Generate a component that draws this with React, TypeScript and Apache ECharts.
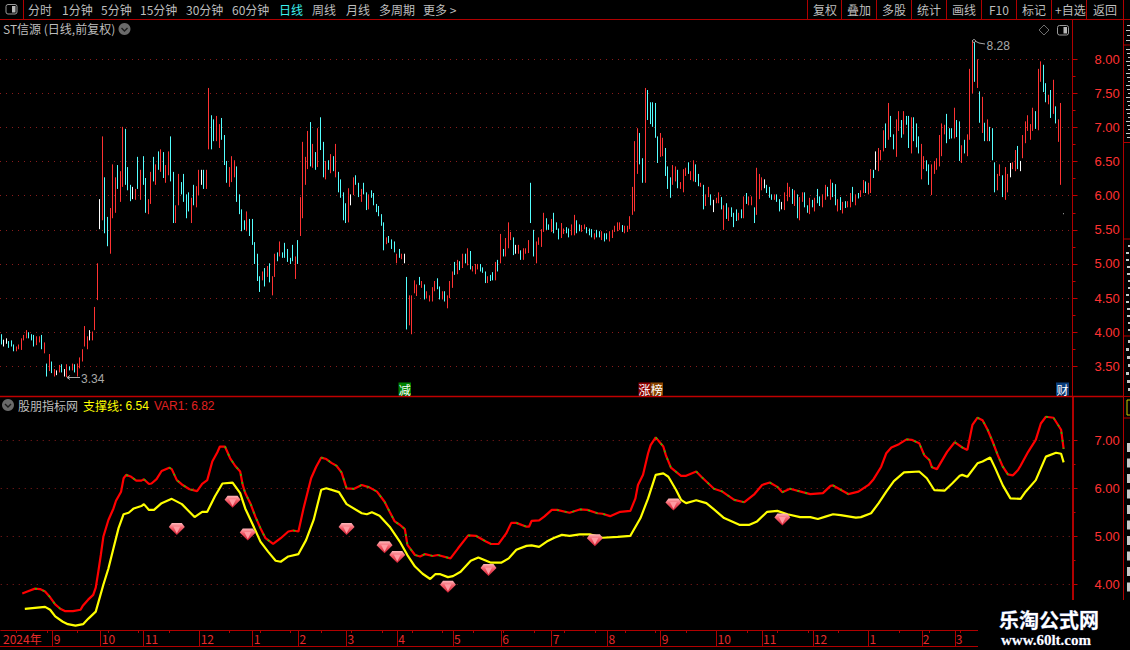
import React, { useEffect, useRef } from "react";
import * as echarts from "echarts";

const highs = [3.97,3.89,3.91,3.87,3.88,3.82,3.79,3.82,3.91,3.96,4.03,4.00,3.97,3.96,3.94,3.94,3.96,3.85,3.54,3.68,3.57,3.46,3.44,3.52,3.53,3.46,3.53,3.50,3.54,3.53,3.54,3.63,3.75,4.09,3.94,4.03,4.01,4.37,5.01,5.95,6.87,6.27,5.69,5.82,6.46,6.27,6.45,6.36,7.01,6.98,6.42,6.16,6.13,6.10,6.57,6.38,6.58,6.26,5.95,6.35,6.57,6.46,6.65,6.68,6.64,6.45,6.65,6.87,6.35,5.86,6.32,6.20,6.32,6.02,6.05,5.97,6.16,6.14,6.38,6.38,6.38,6.38,7.58,7.18,7.12,7.17,7.05,7.14,6.89,6.51,6.42,6.58,6.52,6.43,6.02,5.80,5.64,5.77,5.66,5.66,5.32,5.15,4.82,4.89,4.94,4.97,
5.01,4.82,5.15,5.17,5.33,5.17,5.31,5.22,5.09,5.28,5.11,5.35,5.98,6.79,6.57,6.95,7.08,6.76,6.64,6.99,7.15,6.79,6.51,6.52,6.61,6.58,6.76,6.35,6.24,6.05,5.89,6.11,6.02,6.27,6.30,6.19,6.10,6.19,6.05,6.02,6.08,6.04,5.88,5.85,5.73,5.61,5.39,5.41,5.36,5.33,5.15,5.22,5.15,5.15,4.81,4.54,4.54,4.76,4.70,4.81,4.75,4.70,4.60,4.54,4.66,4.75,4.79,4.67,4.60,4.60,4.54,4.75,4.89,5.03,5.06,5.04,5.15,5.15,5.23,5.19,4.97,5.00,5.00,5.00,4.95,4.89,4.82,4.84,4.88,5.03,5.06,5.44,5.22,5.38,5.61,5.47,5.39,5.28,5.28,5.20,5.23,5.23,5.35,6.19,5.50,5.33,5.39,
5.51,5.75,5.67,5.58,5.66,5.75,5.61,5.52,5.60,5.52,5.54,5.52,5.58,5.72,5.64,5.58,5.57,5.58,5.54,5.52,5.51,5.45,5.50,5.48,5.48,5.45,5.45,5.48,5.50,5.56,5.61,5.61,5.57,5.56,5.56,5.70,6.13,6.80,6.99,6.92,6.55,7.58,7.55,7.37,7.37,7.36,6.87,6.92,6.85,6.70,6.43,6.27,6.45,6.43,6.38,6.20,6.39,6.41,6.49,6.36,6.52,6.46,6.32,6.19,6.16,6.02,6.13,6.02,5.94,5.97,6.05,5.98,5.86,5.89,5.83,5.83,5.75,5.80,5.75,5.80,5.99,6.04,5.99,5.99,5.83,6.41,6.32,6.27,6.24,6.16,6.13,6.02,6.02,6.02,5.95,5.91,6.05,6.19,6.13,6.10,6.08,6.02,5.98,6.05,6.05,5.86,5.97,
5.94,5.97,6.10,5.99,6.02,6.16,6.13,6.24,6.19,6.17,5.95,5.98,5.91,5.92,5.92,6.04,6.13,6.02,6.04,6.08,6.23,6.21,6.19,6.39,6.38,6.65,6.70,6.67,6.96,7.06,7.36,7.17,6.90,7.12,7.24,7.11,7.24,7.17,7.17,7.15,7.15,7.06,6.87,6.76,6.58,6.52,6.46,6.46,6.51,6.55,6.89,7.06,7.04,7.20,6.99,6.99,7.29,7.11,7.09,6.74,6.82,6.90,7.86,8.28,8.25,8.00,7.53,7.45,7.07,7.12,7.01,6.99,6.49,6.32,6.46,6.30,6.42,6.32,6.48,6.49,6.67,6.73,6.51,6.89,7.09,7.18,7.05,7.29,7.24,7.86,7.97,7.92,7.65,7.48,7.55,7.70,7.31,7.12,7.36,5.74];

const lows = [3.82,3.79,3.83,3.77,3.79,3.72,3.72,3.75,3.74,3.88,3.91,3.91,3.88,3.79,3.81,3.85,3.75,3.69,3.35,3.43,3.40,3.35,3.37,3.41,3.41,3.35,3.34,3.44,3.44,3.41,3.35,3.47,3.57,3.79,3.75,3.88,3.88,4.03,4.47,5.51,5.64,5.45,5.26,5.15,5.67,5.75,6.10,5.91,6.13,6.16,6.08,5.92,5.95,5.94,6.10,5.94,6.16,5.75,5.73,5.88,6.21,6.16,6.38,6.35,6.26,6.19,6.30,6.21,5.60,5.60,5.86,6.02,5.91,5.67,5.77,5.60,5.86,5.83,6.01,6.16,6.10,6.10,6.68,6.68,6.80,6.80,6.70,6.82,6.45,6.19,6.13,6.20,6.27,5.91,5.73,5.48,5.50,5.48,5.41,5.28,5.00,4.75,4.59,4.76,4.67,4.81,
4.73,4.54,4.81,5.04,5.11,5.09,5.09,5.03,5.00,5.04,4.78,5.00,5.41,5.67,6.16,6.39,6.43,6.41,6.38,6.42,6.67,6.27,6.24,6.38,6.33,6.36,6.27,6.05,5.97,5.64,5.60,5.61,5.86,6.01,6.16,5.98,5.91,6.02,5.79,5.80,5.97,5.86,5.76,5.70,5.56,5.20,5.29,5.31,5.22,5.17,5.01,5.09,5.07,5.01,4.04,4.10,3.97,4.57,4.53,4.69,4.65,4.48,4.50,4.45,4.45,4.60,4.63,4.48,4.48,4.45,4.35,4.50,4.65,4.84,4.85,4.91,4.94,5.01,4.98,4.92,4.89,4.85,4.92,4.89,4.87,4.72,4.72,4.75,4.76,4.76,4.89,5.01,5.11,5.11,5.23,5.35,5.13,5.15,5.15,5.06,5.06,5.15,5.16,5.60,5.11,5.01,5.28,
5.25,5.47,5.50,5.50,5.47,5.45,5.50,5.36,5.38,5.44,5.45,5.39,5.42,5.42,5.45,5.48,5.47,5.51,5.45,5.42,5.39,5.36,5.39,5.39,5.35,5.33,5.36,5.33,5.38,5.47,5.48,5.50,5.47,5.45,5.47,5.51,5.72,5.77,6.32,6.46,6.19,6.19,7.11,7.05,7.01,6.85,6.48,6.57,6.58,6.29,6.10,5.97,6.16,6.21,6.11,6.10,6.05,6.29,6.32,6.23,6.21,6.20,6.14,6.13,5.80,5.85,5.98,5.86,5.76,5.89,5.89,5.80,5.50,5.66,5.63,5.69,5.54,5.63,5.64,5.67,5.67,5.88,5.86,5.86,5.60,5.72,5.95,6.08,6.11,6.04,5.97,5.94,5.94,5.91,5.77,5.80,5.79,5.92,5.98,5.88,5.85,5.67,5.64,5.91,5.83,5.75,5.73,
5.83,5.77,5.89,5.85,5.83,5.94,5.99,5.94,5.98,5.86,5.77,5.79,5.74,5.82,5.83,5.83,5.91,5.86,5.96,5.98,6.04,6.04,6.02,6.04,6.26,6.38,6.36,6.52,6.65,6.70,6.82,6.86,6.68,6.57,6.95,6.85,6.90,7.04,6.70,6.62,6.80,6.71,6.62,6.24,6.39,6.36,6.16,6.01,6.32,6.38,6.43,6.58,6.90,6.77,6.83,6.84,6.84,6.86,6.51,6.48,6.62,6.58,6.82,7.50,7.67,7.58,7.07,6.92,6.80,6.80,6.80,6.52,6.05,6.08,6.29,5.98,5.94,6.05,6.27,6.39,6.36,6.39,6.36,6.55,6.77,6.95,6.82,6.95,6.98,6.96,7.67,7.52,7.37,7.34,7.14,7.20,7.06,6.79,6.16,5.73];

// One letter per candle: r = up, c = down, w = flat
const tones = [
  "cwwcccrrrr","rcccrrcrcr","crwrcwrcrc","rrrrrwrrrw","rccrrrcrrc","ccwrcrccrr","crcrcrrccr","rccccrcrrw","crrccrrccc","rrrccccrcc","cccrcr",
  "crrcrccccc","rcrrrrcrcr","ccrcrcrccc","crwrccrccr","ccccccrccc","rcrwcrrrrc","rcrrrrccrc","rrrcrcrcrc","rrrcccrccr","crcrrrcwrc","rrrccrr",
  "rrccrcccrr","ccrrccrrcc","crccrccrrr","rrcrrrrrrc","crcccccrrc","ccrrcrrrcr","rccrcrrcwr","rcrcrcccrc","rcrrcrrrwc","ccrccwrrrc","rcrrccr",
  "crccrrcrcc","rcrcrrcrcr","rcrrcwrrrc","rccrrcrccr","cccrrccrrr","rrrcccrccr","crrrcrcrcr","cccrrcrrwr","rcwrrrrrcr","rccrcrcrrw",
].join("");

const monthStarts = [0, 20, 39, 56, 78, 99, 117, 136, 156, 178, 197, 217, 239, 260, 282, 300, 320, 342, 363, 376];
const monthNames = ["2024年", "9", "10", "11", "12", "1", "2", "3", "4", "5", "6", "7", "8", "9", "10", "11", "12", "1", "2", "3"];

const var1Index = [8,10,13,15,17,19,21,23,25,28,31,32,34,36,37,38,39,40,42,44,45,47,48,49,51,53,55,56,58,59,61,63,66,67,69,71,74,77,79,81,83,85,86,88,90,92,94,95,96,98,100,102,104,107,110,113,115,117,119,122,124,126,128,130,132,134,136,139,142,145,148,151,153,155,157,159,160,163,165,167,170,172,177,180,184,187,191,193,196,199,201,203,207,208,209,212,214,217,219,224,228,231,235,237,240,244,248,250,251,253,255,256,258,261,262,264,268,270,274,276,281,284,289,293,297,300,303,306,308,311,316,319,324,327,328,331,334,338,342,344,347,349,351,354,357,359,362,364,366,367,369,373,376,379,381,383,385,387,389,391,393,395,397,399,401,402,405,408,410,412,415,418,419];
const var1Values = [3.81,3.85,3.91,3.90,3.85,3.73,3.58,3.49,3.44,3.44,3.47,3.56,3.68,3.78,3.93,4.26,4.61,4.99,5.34,5.58,5.74,5.93,6.21,6.28,6.24,6.16,6.16,6.19,6.09,6.10,6.19,6.36,6.43,6.40,6.17,6.08,5.98,5.94,6.09,6.17,6.56,6.75,6.87,6.87,6.63,6.47,6.35,6.07,5.90,5.69,5.41,5.17,4.96,4.84,4.96,5.10,5.12,5.10,5.58,6.21,6.45,6.64,6.61,6.53,6.47,6.33,6.00,5.99,6.07,6.02,5.93,5.72,5.51,5.31,5.24,5.15,4.82,4.61,4.58,4.63,4.59,4.61,4.54,4.75,5.02,5.01,4.89,4.84,4.84,5.06,5.28,5.28,5.20,5.20,5.32,5.33,5.41,5.55,5.55,5.49,5.56,5.55,5.48,5.47,5.42,5.51,5.53,5.79,6.07,6.28,6.73,6.90,7.06,6.87,6.69,6.43,6.26,6.26,6.35,6.24,5.99,5.94,5.76,5.71,5.88,6.07,6.12,6.03,5.92,5.99,5.92,5.88,5.90,6.05,6.06,5.97,5.88,5.93,6.07,6.19,6.45,6.73,6.85,6.92,7.02,7.01,6.94,6.69,6.59,6.44,6.40,6.76,6.96,6.85,6.80,7.32,7.47,7.42,7.22,6.97,6.69,6.45,6.29,6.27,6.38,6.47,6.76,7.01,7.35,7.49,7.47,7.22,6.82];

const supportIndex = [9,13,17,19,21,24,26,29,32,34,37,40,42,44,46,48,50,52,55,56,58,60,63,67,71,76,79,81,84,87,91,94,96,99,102,105,108,110,113,117,120,123,126,128,133,136,142,144,146,149,153,157,160,163,166,169,171,173,176,178,181,185,188,193,197,200,203,207,209,212,215,218,221,224,228,232,237,243,248,252,255,258,261,263,266,268,270,274,278,281,285,291,295,298,302,306,310,315,319,322,325,328,331,337,339,343,346,349,352,356,362,365,368,372,375,378,379,381,385,387,390,392,395,398,402,404,408,412,416,418,419];
const supportValues = [3.49,3.51,3.53,3.47,3.33,3.22,3.17,3.14,3.17,3.28,3.43,3.99,4.33,4.75,5.17,5.46,5.49,5.58,5.63,5.67,5.55,5.55,5.69,5.78,5.67,5.40,5.51,5.51,5.83,6.10,6.12,5.90,5.58,5.24,4.89,4.68,4.49,4.47,4.58,4.63,4.92,5.34,5.97,6.00,5.92,5.67,5.48,5.46,5.50,5.43,5.20,4.89,4.61,4.37,4.22,4.11,4.21,4.21,4.15,4.17,4.26,4.49,4.56,4.45,4.45,4.54,4.72,4.80,4.81,4.78,4.89,4.97,5.03,5.01,5.04,5.04,4.97,4.99,5.01,5.38,5.79,6.28,6.31,6.24,5.97,5.76,5.69,5.75,5.69,5.56,5.38,5.24,5.24,5.31,5.51,5.53,5.46,5.40,5.40,5.36,5.41,5.46,5.44,5.39,5.40,5.48,5.69,5.93,6.15,6.33,6.35,6.21,5.96,5.95,6.10,6.26,6.28,6.24,6.52,6.56,6.64,6.42,6.06,5.79,5.78,5.93,6.17,6.66,6.74,6.72,6.54];

const gemIndex = [69, 91, 97, 136, 151, 156, 176, 192, 234, 265, 308];
const gemValues = [5.15, 5.72, 5.04, 5.15, 4.77, 4.57, 3.95, 4.30, 4.92, 5.66, 5.35];

const topMenu = ["分时", "1分钟", "5分钟", "15分钟", "30分钟", "60分钟", "日线", "周线", "月线", "多周期", "更多 >"];
const topMenuX = [28, 62, 101, 140, 186, 232, 279, 312, 346, 379, 423];
const rightMenu = ["复权", "叠加", "多股", "统计", "画线", "F10", "标记", "+自选", "返回"];
const rightMenuX = [813, 847, 882, 917, 952, 989, 1022, 1055, 1093];
const rightMenuRules = [807.5, 841.5, 876.5, 911.5, 946.5, 981.5, 1016.5, 1051.5, 1086.5, 1123.5];

const CATEGORY_COUNT = 423;
const PLOT_WIDTH = 1072.5;
const RED = "#ff3232";
const RULE = "#b00000";
const GRAY = "#bdbdbd";
const CJK = '"Noto Sans CJK SC", "Liberation Sans", sans-serif';

function label(text: string, x: number, y: number, fill: string, size = 12, extra: any = {}) {
  return {
    type: "text",
    x,
    y,
    z: 20,
    style: { text, fill, font: `${extra.weight || "normal"} ${size}px ${extra.family || CJK}`, textVerticalAlign: "middle", textAlign: extra.align || "left", stroke: extra.stroke, lineWidth: extra.lineWidth },
  };
}
function rule(x1: number, y1: number, x2: number, y2: number, stroke = RULE, lineWidth = 1, z = 10) {
  return { type: "line", z, shape: { x1, y1, x2, y2 }, style: { stroke, lineWidth } };
}
function panelIcon(x: number, y: number) {
  return [
    { type: "rect", z: 20, shape: { x, y, width: 11, height: 9.5, r: 2 }, style: { fill: "#000", stroke: "#9a9a9a", lineWidth: 1 } },
    { type: "rect", z: 21, shape: { x: x + 6, y: y + 1.5, width: 3.5, height: 6.5 }, style: { fill: "#b8b8b8" } },
  ];
}
function collapseButton(x: number, y: number) {
  return [
    { type: "circle", z: 20, shape: { cx: x, cy: y, r: 6 }, style: { fill: "#6a6a6a" } },
    { type: "polyline", z: 21, shape: { points: [[x - 3, y - 1], [x, y + 2], [x + 3, y - 1]] }, style: { stroke: "#1c1c1c", lineWidth: 1.4, fill: "none" } },
  ];
}
function tag(text: string, x: number, width: number, fill: string) {
  return [
    { type: "rect", z: 20, shape: { x, y: 382.5, width, height: 13 }, style: { fill } },
    label(text, x + width / 2, 389, "#ffffff", 12, { align: "center" }),
  ];
}
// The far right column holds text cut off by the window edge; only slivers of it show.
function sliver(x: number, y: number, width: number, height: number, fill = "#c8c8c8") {
  return { type: "rect", z: 12, shape: { x, y, width, height }, style: { fill } };
}
function sidebarSlivers() {
  const out: any[] = [];
  for (let y = 25; y < 44; y += 5) out.push(sliver(1126 + (y % 2), y, 4, 1));
  for (let y = 49; y < 141; y += 4) out.push(sliver(1126 + ((y >> 2) % 3), y, 4, 1));
  for (let y = 245; y < 335; y += 7) out.push(sliver(1126 + ((y >> 1) % 3), y, 3, 2));
  for (let y = 340; y < 394; y += 8) out.push(sliver(1126 + ((y >> 1) % 3), y, 3, 3));
  for (let y = 443; y < 598; y += 15.5) out.push(sliver(1127, y, 3, 9));
  return out;
}
function axisX(i: number) {
  return Math.round(((i + 0.5) * PLOT_WIDTH) / CATEGORY_COUNT) + 0.5;
}
function timeTicks() {
  const out: any[] = monthStarts.filter((i) => i > 0).map((i) => rule(axisX(i), 630, axisX(i), 646.5));
  for (let i = 6; i < 386; i += 12) out.push(rule(axisX(i), 630, axisX(i), 633));
  return out;
}

const App = () => {
  const ref = useRef<HTMLDivElement>(null);
  useEffect(() => {
    if (!ref.current) return;
    document.body.style.margin = "0";
    document.body.style.background = "#000";
    const chart = echarts.init(ref.current, undefined, { renderer: "svg" });

    const categories = Array.from({ length: CATEGORY_COUNT }, (_, i) => {
      const m = monthStarts.indexOf(i);
      return m >= 0 ? monthNames[m] : "";
    });
    const isMonth = (i: number) => monthStarts.includes(i);
    const candleColors: Record<string, string> = { r: "#ff3232", c: "#54ffff", w: "#ffffff" };
    const candles = highs.map((h, i) => {
      const t = tones[i] || "r";
      const col = candleColors[t];
      return {
        value: t === "r" ? [lows[i], h, lows[i], h] : [h, lows[i], lows[i], h],
        itemStyle: { color: col, color0: col, borderColor: col, borderColor0: col, borderWidth: 1 },
      };
    });
    const var1 = var1Index.map((x, i) => [x, var1Values[i]]);
    const falling = var1Index.map((x, i) => {
      const prev = var1Values[i - 1];
      const next = var1Values[i + 1];
      const down = (prev !== undefined && prev > var1Values[i]) || (next !== undefined && next < var1Values[i]);
      return [x, down ? var1Values[i] : null];
    });
    const support = supportIndex.map((x, i) => [x, supportValues[i]]);
    const gems = gemIndex.map((x, i) => [x, gemValues[i]]);

    const yAxisBase = {
      type: "value",
      position: "right",
      axisLine: { show: false },
      axisTick: { show: true, length: 5, lineStyle: { color: "#c00000", width: 1 } },
      minorTick: { show: true, splitNumber: 2, length: 3, lineStyle: { color: "#c00000", width: 1 } },
      splitLine: { show: true, lineStyle: { color: "#8a1c1c", type: [1, 5], width: 1 } },
      axisLabel: { color: RED, fontSize: 13, fontFamily: "Liberation Sans", margin: 22, align: "left", formatter: (v: number) => v.toFixed(2) },
    };

    chart.setOption({
      animation: false,
      backgroundColor: "#000000",
      grid: [
        { left: 0, width: PLOT_WIDTH, top: 59.3, height: 307 },
        { left: 0, width: PLOT_WIDTH, top: 440.3, height: 144 },
      ],
      xAxis: [
        { type: "category", gridIndex: 0, data: categories, show: false },
        {
          type: "category",
          gridIndex: 1,
          data: categories,
          position: "bottom",
          offset: 45.7,
          axisLine: { lineStyle: { color: RULE, width: 1 } },
          axisTick: { show: false },
          axisLabel: { interval: (i: number) => isMonth(i), color: "#e62a2a", fontSize: 12, fontFamily: CJK, align: "left", margin: 2, padding: [0, 0, 0, 1], hideOverlap: false },
          splitLine: { show: false },
        },
      ],
      yAxis: [
        { ...yAxisBase, gridIndex: 0, min: 3.5, max: 8, interval: 0.5 },
        { ...yAxisBase, gridIndex: 1, min: 4, max: 7, interval: 1 },
      ],
      series: [
        { name: "K线", type: "candlestick", xAxisIndex: 0, yAxisIndex: 0, data: candles, barWidth: 0.2, clip: false },
        { name: "VAR1", type: "line", xAxisIndex: 1, yAxisIndex: 1, data: var1, showSymbol: false, symbol: "none", clip: false, lineStyle: { color: "#ff0000", width: 2.2 }, z: 3 },
        { name: "VAR1下跌", type: "line", xAxisIndex: 1, yAxisIndex: 1, data: falling, showSymbol: false, symbol: "none", clip: false, connectNulls: false, lineStyle: { color: "#00e000", width: 1.4, type: [2, 6] }, z: 4 },
        { name: "支撑线", type: "line", xAxisIndex: 1, yAxisIndex: 1, data: support, showSymbol: false, symbol: "none", clip: false, lineStyle: { color: "#ffff00", width: 2.2 }, z: 3 },
        {
          name: "钻石",
          type: "scatter",
          xAxisIndex: 1,
          yAxisIndex: 1,
          data: gems,
          clip: false,
          z: 6,
          symbol: "path://M3 0H13L16 4L8 12L0 4Z",
          symbolSize: [16, 12],
          itemStyle: { opacity: 1, color: new echarts.graphic.LinearGradient(0, 0, 0, 1, [{ offset: 0, color: "#ffb8bc" }, { offset: 0.4, color: "#f4606c" }, { offset: 1, color: "#d01c30" }]) },
        },
        {
          name: "钻石高光",
          type: "scatter",
          xAxisIndex: 1,
          yAxisIndex: 1,
          data: gems,
          clip: false,
          z: 7,
          symbol: "path://M0 0H8L4 8Z",
          symbolSize: [7, 7],
          symbolOffset: [0, 1],
          itemStyle: { opacity: 1, color: "#ff9aa2" },
        },
      ],
      graphic: { elements: [
        // top bar
        rule(0, 19.5, 1130, 19.5),
        rule(23.5, 0, 23.5, 19.5),
        ...rightMenuRules.map((x) => rule(x, 0, x, 19.5)),
        ...panelIcon(6, 4.5),
        ...topMenu.map((t, i) => label(t, topMenuX[i], 9.5, t === "日线" ? "#3cf0f0" : GRAY)),
        ...rightMenu.map((t, i) => label(t, rightMenuX[i], 9.5, GRAY)),
        // upper panel heading
        label("ST信源 (日线,前复权)", 3, 28.5, GRAY),
        ...collapseButton(124.5, 29),
        { type: "polygon", z: 20, shape: { points: [[1044, 25], [1049, 30], [1044, 35], [1039, 30]] }, style: { fill: "none", stroke: "#6e6e6e", lineWidth: 1 } },
        ...panelIcon(1057.5, 25.5),
        // frames
        rule(1072.5, 19.5, 1072.5, 396),
        rule(1073, 397, 1073, 600, RULE, 2),
        rule(1123.5, 19.5, 1123.5, 600),
        rule(0, 396.5, 1123.5, 396.5, "#c00000", 1.5),
        rule(1123.5, 45, 1130, 45),
        rule(1123.5, 142.5, 1130, 142.5),
        rule(1123.5, 239, 1130, 239),
        rule(1123.5, 336, 1130, 336),
        rule(1123.5, 396.5, 1130, 396.5),
        rule(1123.5, 418, 1130, 418),
        rule(0, 646.5, 980, 646.5),
        ...timeTicks(),
        ...sidebarSlivers(),
        { type: "rect", z: 12, shape: { x: 1127, y: 400, width: 5, height: 15 }, style: { fill: "none", stroke: "#c8c800", lineWidth: 1 } },
        // price extremes
        rule(67, 377.5, 80, 377.5, "#a8a8a8"),
        rule(67, 377.5, 70, 375.5, "#a8a8a8"),
        rule(67, 377.5, 70, 379.5, "#a8a8a8"),
        label("3.34", 81, 379, "#a8a8a8", 12, { family: "Liberation Sans" }),
        { type: "circle", z: 20, shape: { cx: 974, cy: 41, r: 1.5 }, style: { fill: "none", stroke: "#a8a8a8", lineWidth: 1 } },
        { type: "polyline", z: 20, shape: { points: [[975, 41], [979, 43], [985, 44]] }, style: { fill: "none", stroke: "#a8a8a8", lineWidth: 1 } },
        label("8.28", 986.5, 46, "#a8a8a8", 12, { family: "Liberation Sans" }),
        // event tags
        ...tag("减", 398.5, 12.5, "#008000"),
        ...tag("涨", 638.5, 12, "#8b0000"),
        ...tag("榜", 650.5, 12.5, "#8b4500"),
        ...tag("财", 1056, 13, "#0a3d7a"),
        // lower panel legend
        ...collapseButton(8, 405),
        label("股朋指标网", 18, 405.5, GRAY),
        label("支撑线:", 83, 405.5, "#ffff00"),
        label("6.54", 125.5, 405.5, "#ffff00", 12, { family: "Liberation Sans" }),
        label("VAR1: 6.82", 154, 405.5, "#e02020", 12, { family: "Liberation Sans" }),
        // watermark
        { type: "rect", z: 30, shape: { x: 978, y: 600.5, width: 152, height: 49.5 }, style: { fill: "#000000" } },
        { ...label("乐淘公式网", 999, 619, "#ffffff", 20, { weight: "bold", stroke: "#5a6aa8", lineWidth: 0.6 }), z: 31 },
        { ...label("www.60lt.com", 1001, 639.5, "#ffffff", 15, { weight: "bold", family: "Liberation Serif", stroke: "#5a6aa8", lineWidth: 0.4 }), z: 31 },
      ] },
    });
    return () => chart.dispose();
  }, []);
  return <div ref={ref} style={{ position: "absolute", left: 0, top: 0, width: 1130, height: 650, overflow: "hidden" }} />;
};

export default App;
